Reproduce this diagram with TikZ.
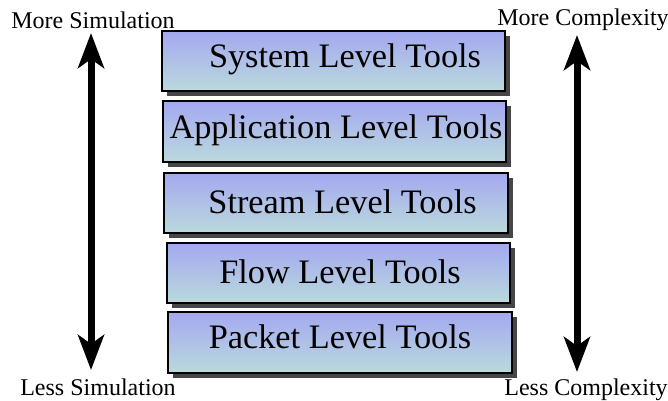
\documentclass[tikz,border=0pt]{standalone}
\usepackage{fontspec}
\setmainfont{Liberation Serif}
\usetikzlibrary{arrows.meta,shadows}

\definecolor{tooltop}{RGB}{164,168,240}
\definecolor{toolbottom}{RGB}{186,218,220}
\definecolor{toolshadow}{RGB}{70,70,70}

\tikzset{
  toolbox/.style={draw=black, line width=2pt, rectangle, inner sep=0pt,
    top color=tooltop, bottom color=toolbottom,
    drop shadow={shadow xshift=5pt, shadow yshift=-5pt, fill=toolshadow, opacity=1}},
  tooltext/.style={anchor=base, inner sep=0pt, font=\fontsize{34.3}{40}\selectfont},
  sidelabel/.style={anchor=base, inner sep=0pt, font=\fontsize{24}{28}\selectfont},
  bigarrow/.style={line width=7pt, {Stealth[length=35pt,width=26pt,inset=9pt]}-{Stealth[length=35pt,width=26pt,inset=9pt]}}
}

\begin{document}
\begin{tikzpicture}[x=1pt, y=-1pt]
  \useasboundingbox (0,0) rectangle (668,400);

  % stacked tool levels
  \node[toolbox, minimum width=343pt, minimum height=60pt] (sys) at (333.5,61) {};
  \node[toolbox, minimum width=343pt, minimum height=61pt] (app) at (334.5,131.5) {};
  \node[toolbox, minimum width=344pt, minimum height=60pt] (str) at (336,203) {};
  \node[toolbox, minimum width=343pt, minimum height=60pt] (flo) at (338.5,273) {};
  \node[toolbox, minimum width=344pt, minimum height=61pt] (pkt) at (340,342.5) {};

  \node[tooltext] (systxt) at (345,67) {System Level Tools};
  \node[tooltext] (apptxt) at (336,138) {Application Level Tools};
  \node[tooltext] (strtxt) at (342.5,213) {Stream Level Tools};
  \node[tooltext] (flotxt) at (340,283) {Flow Level Tools};
  \node[tooltext] (pkttxt) at (340,348) {Packet Level Tools};

  % side scales
  \node[sidelabel] (moresim) at (93,28) {More Simulation};
  \node[sidelabel] (lesssim) at (98,395) {Less Simulation};
  \node[sidelabel] (morecpx) at (583,25) {More Complexity};
  \node[sidelabel] (lesscpx) at (586,395) {Less Complexity};

  \coordinate (simtop) at (91,33);
  \coordinate (simbot) at (91,370);
  \coordinate (cpxtop) at (577,35);
  \coordinate (cpxbot) at (577,372);

  \draw[bigarrow] (simtop) -- (simbot);
  \draw[bigarrow] (cpxtop) -- (cpxbot);
\end{tikzpicture}
\end{document}
